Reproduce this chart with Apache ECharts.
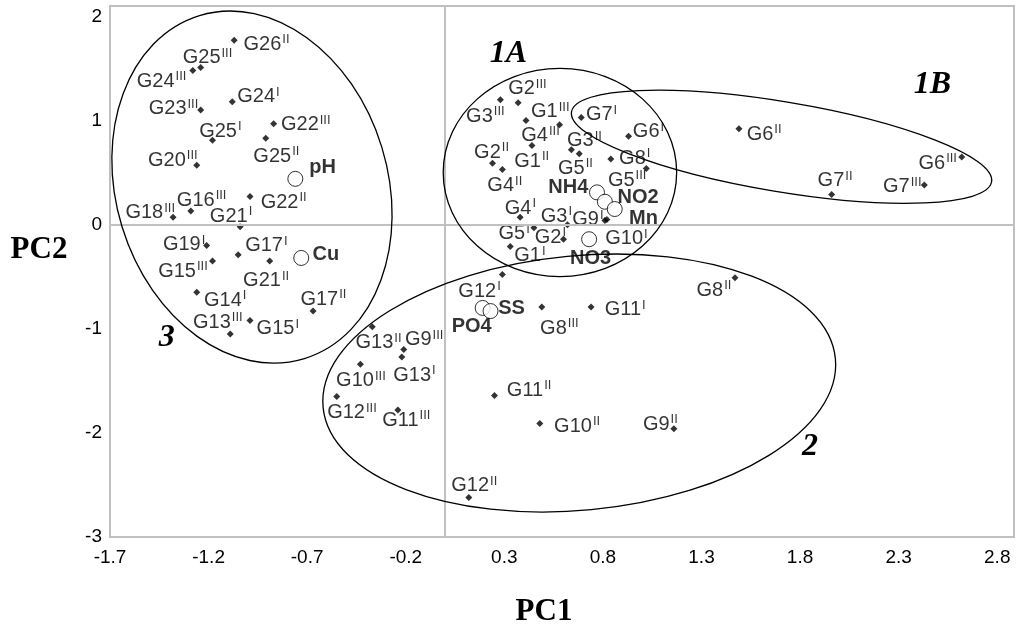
<!DOCTYPE html>
<html><head><meta charset="utf-8">
<script src="https://cdn.jsdelivr.net/npm/echarts@6/dist/echarts.min.js"></script>
<style>html,body{margin:0;padding:0;background:#fff}#c{width:1018px;height:632px}</style>
</head><body><div id="c"></div>
<script>
// ---- data ----
const sampleLabels = ['G26^II','G25^III','G24^III','G23^III','G24^I','G22^III','G25^I','G25^II','G20^III','G22^II',
  'G16^III','G18^III','G21^I','G19^I','G17^I','G15^III','G21^II','G14^I','G17^II','G15^I',
  'G13^III','G13^II','G9^III','G13^I','G10^III','G12^III','G11^III','G12^II','G3^III','G2^III',
  'G1^III','G4^III','G1^II','G4^II','G7^I','G6^I','G3^II','G5^II','G2^II','G8^I',
  'G5^III','G4^I','G3^I','G9^I','G10^I','G5^I','G2^I','G1^I','G12^I','G8^III',
  'G11^I','G11^II','G10^II','G9^II','G8^II','G6^II','G6^III','G7^II','G7^III'];
const sampleX = [-1.07,-1.24,-1.28,-1.24,-1.08,-0.87,-1.18,-0.91,-1.26,-0.99,
  -1.29,-1.38,-1.04,-1.21,-1.05,-1.18,-0.89,-1.26,-0.67,-0.99,
  -1.09,-0.37,-0.21,-0.22,-0.43,-0.55,-0.24,0.12,0.28,0.37,
  0.41,0.58,0.44,0.29,0.69,0.93,0.64,0.68,0.24,0.84,
  1.02,0.38,0.62,0.81,0.82,0.45,0.60,0.33,0.29,0.49,
  0.74,0.25,0.48,1.16,1.47,1.49,2.62,1.96,2.43];
const sampleY = [1.77,1.51,1.48,1.10,1.18,0.97,0.81,0.83,0.57,0.27,
  0.13,0.07,-0.02,-0.20,-0.29,-0.35,-0.35,-0.65,-0.83,-0.92,
  -1.05,-0.98,-1.20,-1.27,-1.34,-1.65,-1.78,-2.62,1.20,1.17,
  1.00,0.96,0.76,0.53,1.03,0.85,0.72,0.68,0.59,0.63,
  0.54,0.07,0.00,0.04,0.05,-0.03,-0.14,-0.21,-0.48,-0.79,
  -0.79,-1.64,-1.91,-1.96,-0.51,0.92,0.65,0.29,0.38];
const varLabels = ['pH','Cu','NH4','NO2','Mn','NO3','PO4','SS'];
const varX = [-0.76,-0.73,0.77,0.81,0.86,0.73,0.19,0.23];
const varY = [0.44,-0.32,0.31,0.22,0.15,-0.14,-0.80,-0.83];
const xTickLabels = ['-1.7','-1.2','-0.7','-0.2','0.3','0.8','1.3','1.8','2.3','2.8'];
const yTickLabels = ['-3','-2','-1','0','1','2'];
const groupNames = ['3','1A','1B','2'];

// ---- layout (not data) ----
const labelOffset = {
 'G26^II':[9.3,3.8],'G25^III':[-18,-10],'G24^III':[-56,10.5],'G23^III':[-52,-1.4],'G24^I':[5,-5.3],
 'G22^III':[7.3,0.9],'G25^I':[-13.4,-9.1],'G25^II':[-12.4,17.8],'G20^III':[-48.7,-5],'pH':[14,-10.9],
 'G22^II':[10.7,5.5],'G16^III':[-14,-10.7],'G18^III':[-47.7,-4.5],'G21^I':[-30.3,-10.5],'G19^I':[-43.7,-0.8],
 'G17^I':[7,-9.2],'G15^III':[-54.4,10.1],'G21^II':[-26.6,19.6],'Cu':[11.3,-3.3],'G14^I':[7.3,8],
 'G17^II':[-12.7,-11.9],'G15^I':[6.6,8.1],'G13^III':[-37.3,-11.8],'G13^II':[-16.7,16.3],'G9^III':[1.1,-10],
 'G13^I':[-8.5,18.3],'G10^III':[-24.3,16.3],'G12^III':[-9.6,16.2],'G11^III':[-15.6,10.3],'G12^II':[-17.6,-11.9],
 'G3^III':[-34.3,16.7],'G2^III':[-10,-14.3],'G1^III':[5,-9],'G4^III':[-38.3,11],'G1^II':[-17.7,15.6],
 'G4^II':[-15,16],'G7^I':[4.7,-2.7],'G6^I':[4.3,-4.6],'G3^II':[-4.4,-8.9],'G5^II':[-21.3,14.3],
 'G2^II':[-18.4,-11],'G8^I':[8.3,-0.7],'G5^III':[-38.4,11.7],'NH4':[-48.7,-5.1],'NO2':[12.7,-3.9],
 'Mn':[14.3,9.3],'G4^I':[-15.3,-9.3],'G3^I':[-26.7,-8.3],'G9^I':[-32.6,-0.7],'G10^I':[-1.6,19.5],
 'G5^I':[-35.4,6],'G2^I':[-28.7,-2],'NO3':[-19,19.3],'G1^I':[4,9],'G12^I':[-44,16.7],
 'PO4':[-31,18.7],'SS':[7.6,-2.4],'G8^III':[-1.7,21.3],'G11^I':[13.7,3],'G11^II':[12.4,-5.3],
 'G10^II':[14.3,2.7],'G9^II':[-31,-4.6],'G8^II':[-38.5,12.3],'G6^II':[7.7,5.4],'G6^III':[-43.3,6.4],
 'G7^II':[-14,-14],'G7^III':[-41.3,1.4]
};
// ellipses in data units: centre, semi-axes (x units, y units), rotation degrees (CCW)
const ellipseGeom = [
 {cx:-0.980, cy:0.361, rx:0.689, ry:1.722, rot:17},
 {cx:0.582, cy:0.501, rx:0.592, ry:1.000, rot:0},
 {cx:1.706, cy:0.748, rx:1.080, ry:0.432, rot:-9.46},
 {cx:0.680, cy:-1.521, rx:1.305, ry:1.222, rot:5.44}
];
const groupLabelPos = [[166.7,338],[508.5,54],[932.5,85],[810,447]];

const FONT = '"Liberation Sans", Arial, sans-serif';
const SERIF = '"Liberation Serif", "Times New Roman", serif';

const chart = echarts.init(document.getElementById('c'), null, {renderer:'canvas'});

const sampleData = sampleLabels.map((n,i)=>({value:[sampleX[i],sampleY[i]], name:n,
  label:{offset:labelOffset[n]||[6,0]}}));
const varData = varLabels.map((n,i)=>({value:[varX[i],varY[i]], name:n,
  label:{offset:labelOffset[n]||[8,0]}}));

const option = {
  animation:false,
  backgroundColor:'#fff',
  grid:{left:110,right:4,top:6,bottom:95,show:true,borderColor:'#c0c0c0',borderWidth:2,backgroundColor:'transparent'},
  xAxis:{type:'value',min:-1.7,max:2.885,interval:0.5,
    axisLine:{show:false},axisTick:{show:false},splitLine:{show:false},
    axisLabel:{fontSize:19,color:'#000',fontFamily:FONT,margin:11,showMaxLabel:true,
      formatter:v=>{const s=(Math.round(v*10)/10).toFixed(1);return xTickLabels.includes(s)?s:'';}}},
  yAxis:{type:'value',min:-3,max:2.1,interval:1,
    axisLine:{show:false},axisTick:{show:false},splitLine:{show:false},
    axisLabel:{fontSize:19,color:'#000',fontFamily:FONT,margin:8,
      formatter:v=>{const s=String(Math.round(v*10)/10);return yTickLabels.includes(s)?s:'';}}},
  series:[
    {type:'scatter',name:'samples',symbol:'diamond',symbolSize:7,itemStyle:{color:'#000'},
     data:sampleData,z:3,
     label:{show:true,position:'inside',align:'left',verticalAlign:'middle',
       formatter:p=>{const [m,s]=p.name.split('^');return '{m|'+m+'}{s|'+s+'}';},
       rich:{m:{fontSize:20,fontFamily:FONT,color:'#000',lineHeight:22},
             s:{fontSize:13,fontFamily:FONT,color:'#000',lineHeight:9,verticalAlign:'top',padding:[0,0,0,1]}}},
     markLine:{silent:true,symbol:'none',label:{show:false},animation:false,
       lineStyle:{color:'#c0c0c0',width:2,type:'solid'},
       data:[{xAxis:0},{yAxis:0}]}
    },
    {type:'scatter',name:'variables',symbol:'circle',symbolSize:15,
     itemStyle:{color:'#fff',borderColor:'#000',borderWidth:1},
     data:varData,z:4,
     label:{show:true,position:'inside',align:'left',verticalAlign:'middle',formatter:'{b}',
       fontSize:20,fontWeight:'bold',fontFamily:FONT,color:'#000'}}
  ]
};
chart.setOption(option);

function buildGraphics(){
  const px0 = chart.convertToPixel({xAxisIndex:0},0);
  const sx = chart.convertToPixel({xAxisIndex:0},1)-px0;
  const py0 = chart.convertToPixel({yAxisIndex:0},0);
  const sy = py0-chart.convertToPixel({yAxisIndex:0},1);
  const g = [];
  ellipseGeom.forEach((e,i)=>{
    const c = chart.convertToPixel({xAxisIndex:0,yAxisIndex:0},[e.cx,e.cy]);
    g.push({type:'ellipse',id:'el'+i,x:c[0],y:c[1],rotation:e.rot*Math.PI/180,silent:true,z:50,
      shape:{cx:0,cy:0,rx:e.rx*sx,ry:e.ry*sy},
      style:{fill:null,stroke:'#000',lineWidth:1.3}});
  });
  groupNames.forEach((n,i)=>{
    g.push({type:'text',id:'gl'+i,x:groupLabelPos[i][0],y:groupLabelPos[i][1],z:50,silent:true,
      style:{text:n,font:'italic bold 32px '+SERIF,fill:'#000',textAlign:'center',textVerticalAlign:'middle'}});
  });
  g.push({type:'text',id:'pc1',x:544,y:612,z:50,silent:true,
    style:{text:'PC1',font:'bold 31px '+SERIF,fill:'#000',textAlign:'center',textVerticalAlign:'middle'}});
  g.push({type:'text',id:'pc2',x:39,y:250,z:50,silent:true,
    style:{text:'PC2',font:'bold 31px '+SERIF,fill:'#000',textAlign:'center',textVerticalAlign:'middle'}});
  chart.setOption({graphic:g});
}
buildGraphics();
</script></body></html>
